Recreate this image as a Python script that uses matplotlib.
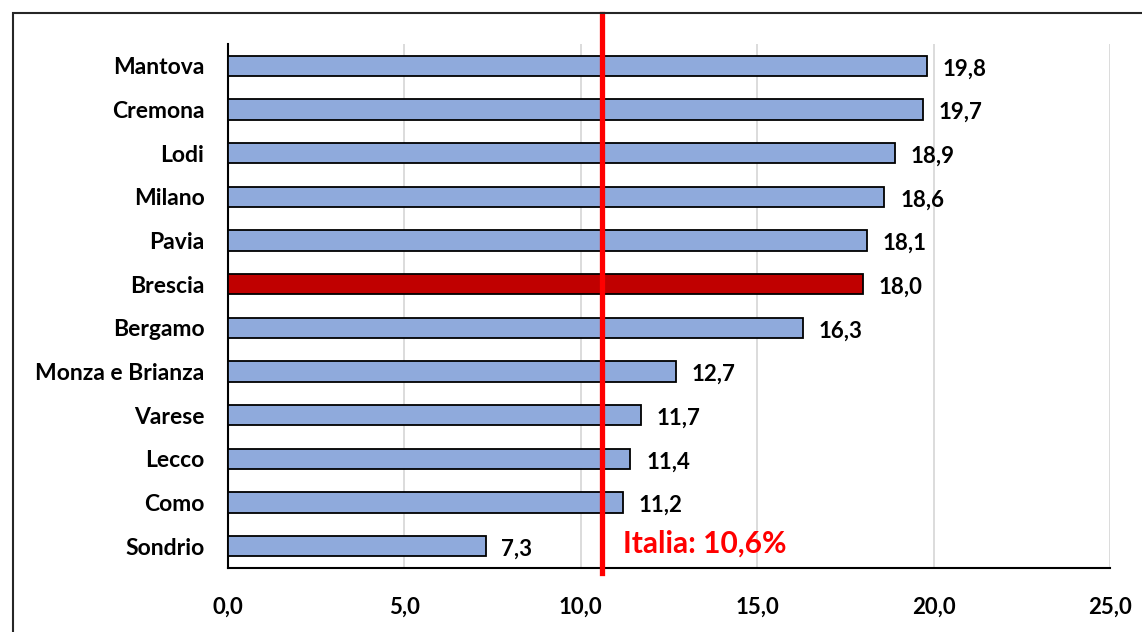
import matplotlib.pyplot as plt
from matplotlib.patches import Rectangle

# Province values (top to bottom)
province = ["Mantova", "Cremona", "Lodi", "Milano", "Pavia", "Brescia",
            "Bergamo", "Monza e Brianza", "Varese", "Lecco", "Como", "Sondrio"]
valori = [19.8, 19.7, 18.9, 18.6, 18.1, 18.0, 16.3, 12.7, 11.7, 11.4, 11.2, 7.3]
italia = 10.6
x_ticks = [0, 5, 10, 15, 20, 25]

plt.rcParams['font.family'] = ['Lato', 'DejaVu Sans']
plt.rcParams['font.weight'] = 'bold'

fig = plt.figure(figsize=(11.42, 6.32), dpi=100)
ax = fig.add_axes([228 / 1142, 64 / 632, (1110 - 228) / 1142, 524 / 632])

colori = ['#C00000' if p == "Brescia" else '#8FAADC' for p in province]
y = list(range(len(province)))
ax.barh(y, valori, height=0.46, color=colori, edgecolor='black', linewidth=1.3, zorder=3)

for yi, v in zip(y, valori):
    ax.text(v + 0.45, yi + 0.07, f"{v:.1f}".replace('.', ','), va='center', ha='left',
            fontsize=16, fontweight='bold', color='black', zorder=4)

ax.set_ylim(len(province) - 0.5, -0.5)
ax.set_xlim(0, 25)
ax.set_yticks(y)
ax.set_yticklabels(province, fontsize=16.5, fontweight='bold')
ax.set_xticks(x_ticks)
ax.set_xticklabels([f"{t:.1f}".replace('.', ',') for t in x_ticks], fontsize=16, fontweight='bold')
ax.tick_params(axis='y', length=0, pad=17)
ax.tick_params(axis='x', length=0, pad=21)

ax.grid(axis='x', color='#D9D9D9', linewidth=1.3, zorder=0)
for s in ['top', 'right']:
    ax.spines[s].set_visible(False)
ax.spines['left'].set_linewidth(1.5)
ax.spines['bottom'].set_linewidth(1.5)

# national average line
ax.axvline(italia, ymin=-0.01, ymax=1.057, color='#FF0000', linewidth=3.8, clip_on=False, zorder=5)
ax.text(italia + 0.6, 10.95, "Italia: 10,6%", color='#FF0000', fontsize=21.5,
        fontweight='bold', va='center', ha='left', zorder=6)

# outer frame
fig.patches.append(Rectangle((13 / 1142, -0.1), 1.2, (632 - 13) / 632 + 0.1,
                             transform=fig.transFigure, fill=False,
                             edgecolor='#262626', linewidth=1.5))

fig.savefig("out.png", dpi=100)
